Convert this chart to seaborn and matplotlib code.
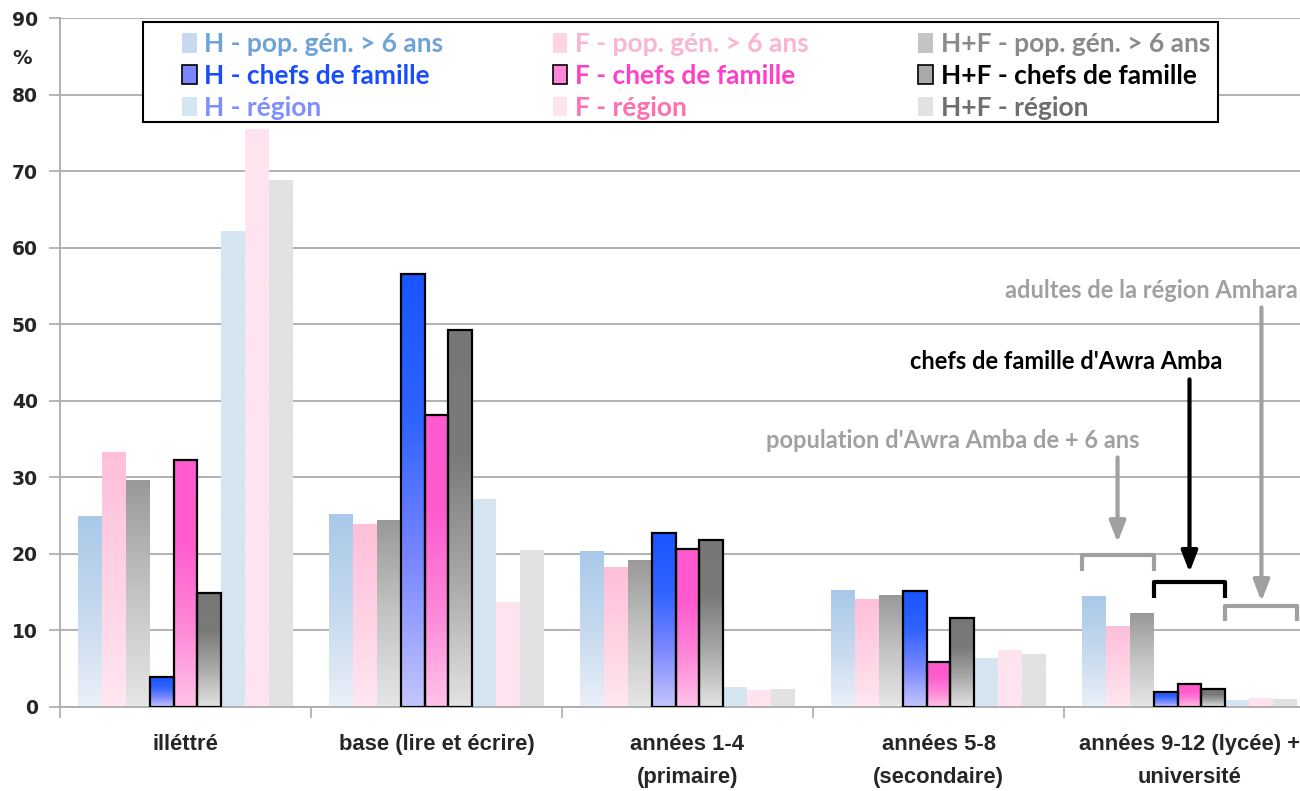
import numpy as np
import pandas as pd
import matplotlib
matplotlib.use('Agg')
import matplotlib.pyplot as plt
from matplotlib.colors import LinearSegmentedColormap
from matplotlib.patches import Patch, Rectangle
import seaborn as sns

categories = ['illéttré', 'base (lire et écrire)', 'années 1-4\n(primaire)',
              'années 5-8\n(secondaire)', 'années 9-12 (lycée) +\nuniversité']
series = ['H - pop. gén. > 6 ans', 'F - pop. gén. > 6 ans', 'H+F - pop. gén. > 6 ans',
          'H - chefs de famille', 'F - chefs de famille', 'H+F - chefs de famille',
          'H - région', 'F - région', 'H+F - région']

h_pop = [24.9, 25.2, 20.3, 15.2, 14.4]
f_pop = [33.3, 23.8, 18.2, 14.1, 10.5]
hf_pop = [29.6, 24.4, 19.1, 14.6, 12.2]
h_chefs = [3.9, 56.5, 22.7, 15.2, 2.0]
f_chefs = [32.3, 38.2, 20.6, 5.9, 3.0]
hf_chefs = [14.9, 49.3, 21.8, 11.6, 2.4]
h_region = [62.1, 27.1, 2.6, 6.4, 0.8]
f_region = [75.4, 13.6, 2.1, 7.4, 1.1]
hf_region = [68.8, 20.4, 2.35, 6.9, 0.95]

values = [h_pop, f_pop, hf_pop, h_chefs, f_chefs, hf_chefs, h_region, f_region, hf_region]

# gradient stops (bottom -> top) for each series
grads = [
    ['#eaf0f8', '#c6d9ee', '#a9c9e9'],
    ['#ffe7f1', '#ffd2e4', '#ffbfd9'],
    ['#e6e6e6', '#c4c4c4', '#999999'],
    ['#c4c6fc', '#7a87ff', '#2f63ff', '#1a55ff'],
    ['#ffc3e9', '#ff86d8', '#ff5ccf', '#ff5acf'],
    ['#e3e3e3', '#a9a9a9', '#7a7a7a', '#777777'],
    ['#d6e5f2', '#d6e5f2'],
    ['#ffe3ee', '#ffe3ee'],
    ['#e2e2e2', '#e2e2e2'],
]
text_colors = ['#6ea3da', '#f9b5d2', '#8a8a8a',
               '#1a4cff', '#ff3fc6', '#000000',
               '#7f8fff', '#ff6fae', '#6e6e6e']
chefs = [False, False, False, True, True, True, False, False, False]

rows = []
for s, vals in zip(series, values):
    for c, v in zip(categories, vals):
        rows.append({'niveau': c, 'serie': s, 'pct': v})
df = pd.DataFrame(rows)

sns.set_style('white')
narrow = ['Liberation Sans Narrow', 'Liberation Sans', 'DejaVu Sans']
cal = ['Lato', 'DejaVu Sans']

fig = plt.figure(figsize=(13, 7.91), dpi=100)
ax = fig.add_axes([60 / 1300, (791 - 707) / 791, 1255 / 1300, (707 - 18) / 791])

sns.barplot(data=df, x='niveau', y='pct', hue='serie', order=categories, hue_order=series,
            palette=[g[-1] for g in grads], width=0.86, saturation=1, errorbar=None,
            legend=False, ax=ax)

# gradient fill for each bar
ramp = np.linspace(0, 1, 256).reshape(-1, 1)
for cont, g, name, ch in zip(ax.containers, grads, series, chefs):
    cmap = LinearSegmentedColormap.from_list(name, g)
    for bar in cont:
        x, w, h = bar.get_x(), bar.get_width(), bar.get_height()
        ax.imshow(ramp, extent=[x, x + w, 0, h], origin='lower', cmap=cmap,
                  aspect='auto', zorder=2, interpolation='bilinear')
        bar.set_facecolor('none')
        bar.set_zorder(3)
        if ch:
            bar.set_edgecolor('black')
            bar.set_linewidth(1.6)
        else:
            bar.set_edgecolor('none')

ax.set_xlim(-0.5, 4.5)
ax.set_ylim(0, 90)
ax.set_xlabel('')
ax.set_ylabel('')

ax.set_axisbelow(True)
ax.yaxis.grid(True, color='#ababab', linewidth=1.3, zorder=0)
ax.set_yticks(range(0, 91, 10))
ax.set_yticklabels([str(v) for v in range(0, 91, 10)], fontweight='bold',
                   fontsize=13.5, family='DejaVu Sans')
ax.tick_params(axis='y', direction='out', length=8, width=1.2, color='#ababab', pad=8, left=True)

ax.set_xticks(range(len(categories)))
ax.set_xticklabels(categories, fontweight='bold', fontsize=15.8, family=narrow, linespacing=1.75)
ax.set_xticks(np.arange(-0.5, len(categories)), minor=True)
ax.tick_params(axis='x', which='major', length=0, pad=19.5)
ax.tick_params(axis='x', which='minor', direction='out', length=8, width=1.2,
               color='#ababab', bottom=True)
for lab in ax.get_xticklabels():
    lab.set_verticalalignment('top')

for sp in ['top', 'right']:
    ax.spines[sp].set_visible(False)
for sp in ['left', 'bottom']:
    ax.spines[sp].set_color('#ababab')
    ax.spines[sp].set_linewidth(1.3)

fig.text(22 / 1300, 1 - 58 / 791, '%', fontsize=14, fontweight='bold',
         family='DejaVu Sans', ha='center', va='center')

# brackets + arrows on the last category
last = len(categories) - 1
notes = [
    (0, 2, 19.8, 21.5, 32.6, 'population d\'Awra Amba de + 6 ans', '#a0a0a0', 3.80, 34.8),
    (3, 5, 16.3, 17.6, 42.8, 'chefs de famille d\'Awra Amba', '#000000', 4.13, 45.1),
    (6, 8, 13.2, 13.8, 52.2, 'adultes de la région Amhara', '#a0a0a0', 4.43, 54.4),
]
for i0, i1, yb, ya, yt, txt, col, tx, ty in notes:
    l = ax.containers[i0][last].get_x()
    r = ax.containers[i1][last].get_x() + ax.containers[i1][last].get_width()
    ax.plot([l, l, r, r], [yb - 2.0, yb, yb, yb - 2.0], color=col, lw=3,
            solid_joinstyle='round', solid_capstyle='butt', zorder=5, clip_on=False)
    xc = (l + r) / 2
    ax.annotate('', xy=(xc, ya), xytext=(xc, yt),
                arrowprops=dict(arrowstyle='-|>,head_length=0.9,head_width=0.35',
                                color=col, lw=3, mutation_scale=14, shrinkA=0, shrinkB=0),
                zorder=5)
    ax.text(tx, ty, txt, color=col, fontsize=17, fontweight='bold', family=cal,
            ha='right', va='center', zorder=6, clip_on=False)

# legend frame drawn separately so the columns can sit where the original has them
fig.patches.append(Rectangle((143 / 1300, (791 - 122) / 791), 1075 / 1300, 100 / 791,
                             transform=fig.transFigure, facecolor='white',
                             edgecolor='black', linewidth=1.5, zorder=10))

# legend (3 columns, column-major order)
order = [0, 3, 6, 1, 4, 7, 2, 5, 8]
handles = []
for i in order:
    handles.append(Patch(facecolor=grads[i][1], edgecolor='black' if chefs[i] else 'none',
                         linewidth=1.2, label=series[i]))
leg = fig.legend(handles=handles, ncol=3, loc='center left', mode='expand',
                 bbox_to_anchor=(182 / 1300, (791 - 126) / 791, 1028 / 1300, 100 / 791),
                 bbox_transform=fig.transFigure, frameon=False,
                 prop={'family': cal, 'weight': 'bold', 'size': 19},
                 handlelength=0.55, handleheight=0.75, handletextpad=0.3,
                 labelspacing=0.3, borderpad=0, borderaxespad=0)
leg.set_zorder(11)
for t, i in zip(leg.get_texts(), order):
    t.set_color(text_colors[i])

fig.savefig('out.png', dpi=100)
